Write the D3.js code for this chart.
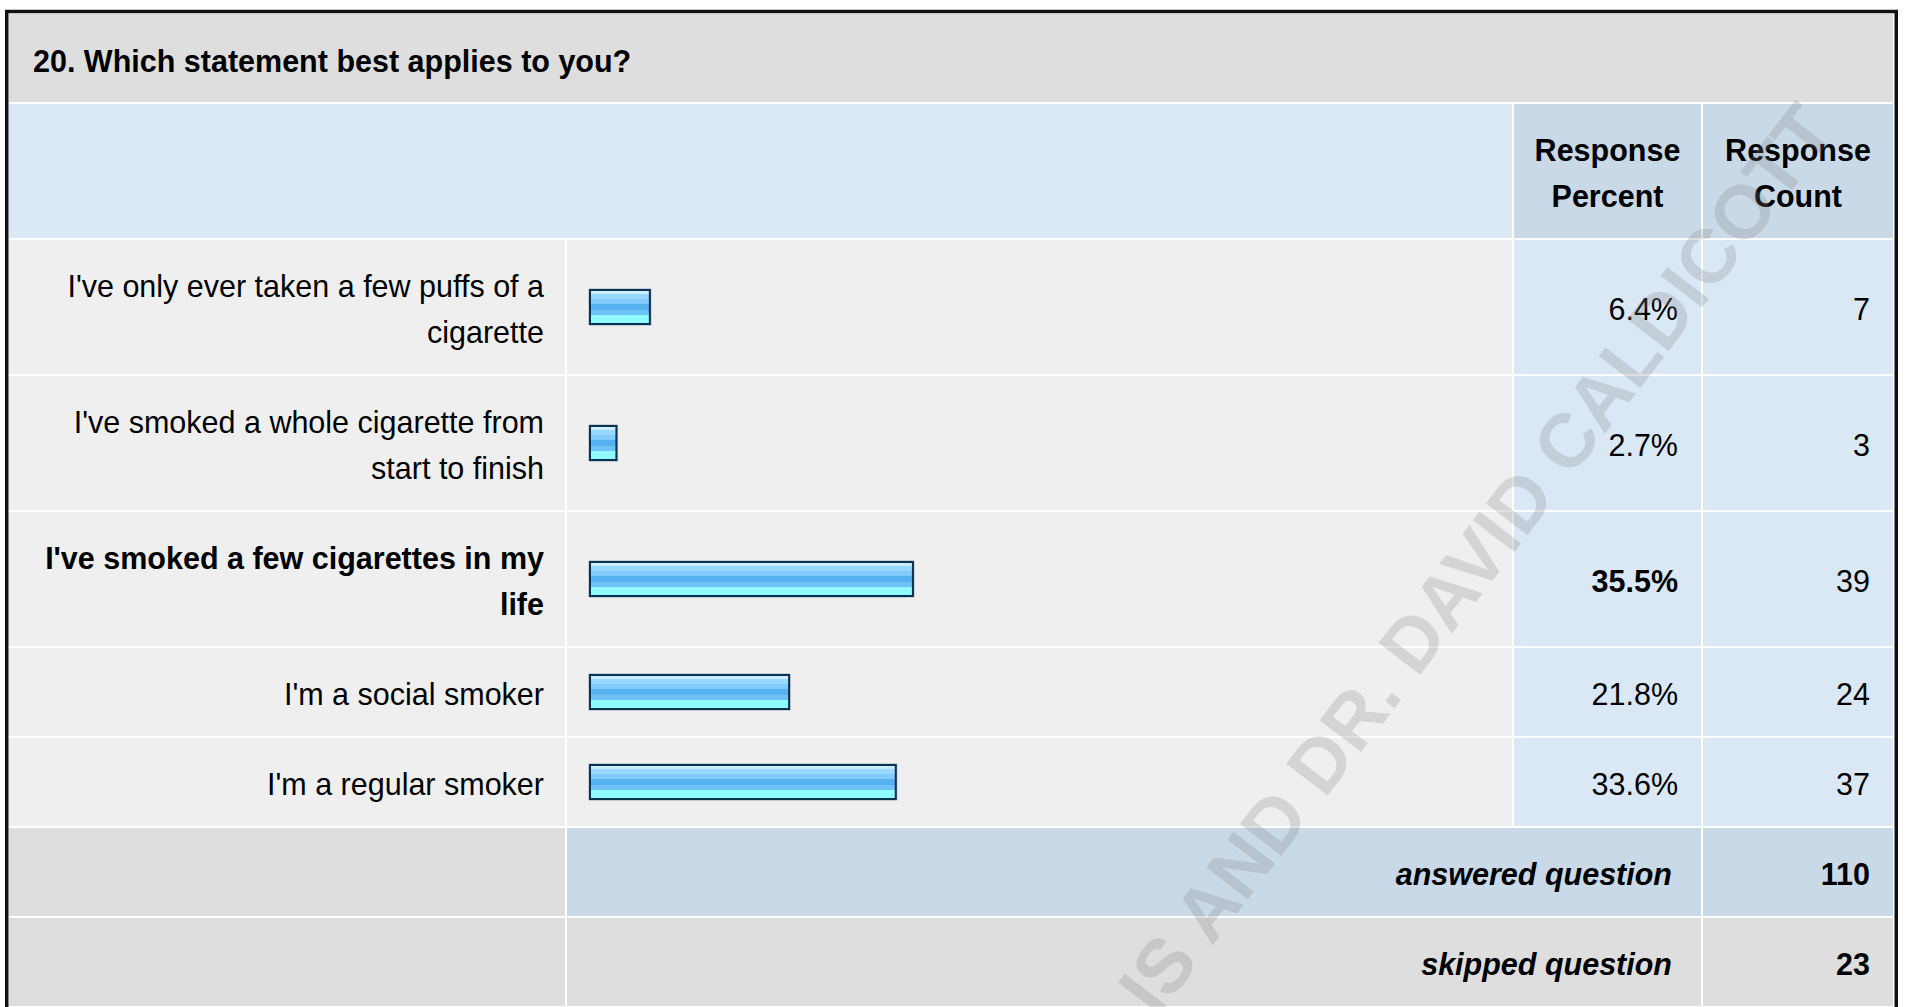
<!DOCTYPE html>
<html>
<head>
<meta charset="utf-8">
<script src="https://cdn.jsdelivr.net/npm/d3@7"></script>
<style>
  body { margin: 0; background: #fff; }
  svg text { font-family: "Liberation Sans", Helvetica, Arial, sans-serif; fill: #000; }
</style>
</head>
<body>
<div id="chart"></div>
<script>
const width = 1908, height = 1007;

// data
const question = "20. Which statement best applies to you?";
const answers = [
  "I've only ever taken a few puffs of a\ncigarette",
  "I've smoked a whole cigarette from\nstart to finish",
  "I've smoked a few cigarettes in my\nlife",
  "I'm a social smoker",
  "I'm a regular smoker"
];
const percents = [6.4, 2.7, 35.5, 21.8, 33.6];
const counts = [7, 3, 39, 24, 37];
const headers = ["Response\nPercent", "Response\nCount"];
const summaryLabels = ["answered question", "skipped question"];
const summaryCounts = [110, 23];
const watermark = "IS AND DR. DAVID CALDICOTT";

// layout
const col = { label: [9, 565], bar: [567, 1512], pct: [1514, 1701], cnt: [1703, 1893] };
const gap = 2, lineH = 46, oneLine = 88, twoLine = 134;
const topMax = d3.max(percents);

const x = d3.scaleLinear().domain([0, 100]).range([0, 904]);

const svg = d3.select("#chart").append("svg")
  .attr("width", width)
  .attr("height", height);

// bar stripes
const stripes = [
  [0, "#c8edff"], [0.1, "#98d7ff"], [0.24, "#80cbfc"], [0.42, "#56b1f1"],
  [0.6, "#6fc2f7"], [0.74, "#90fbff"]
];
const grad = svg.append("defs").append("linearGradient")
  .attr("id", "barfill")
  .attr("x1", 0).attr("y1", 0).attr("x2", 0).attr("y2", 1);
stripes.forEach((s, i) => {
  const end = i < stripes.length - 1 ? stripes[i + 1][0] : 1;
  grad.append("stop").attr("offset", s[0]).attr("stop-color", s[1]);
  grad.append("stop").attr("offset", end).attr("stop-color", s[1]);
});

const cells = svg.append("g");
const texts = svg.append("g");

function cell(span, y0, h, fill) {
  cells.append("rect")
    .attr("x", span[0]).attr("y", y0)
    .attr("width", span[1] - span[0]).attr("height", h)
    .attr("fill", fill);
}

function label(str, xp, cy, anchor, weight, style) {
  const lines = String(str).split("\n");
  const t = texts.append("text")
    .attr("text-anchor", anchor)
    .attr("font-size", 30.5)
    .attr("font-weight", weight || "normal")
    .attr("font-style", style || "normal");
  lines.forEach((ln, i) => {
    t.append("tspan")
      .attr("x", xp)
      .attr("y", cy + 13 + (i - (lines.length - 1) / 2) * lineH)
      .text(ln);
  });
}

// title
let y = 14;
cell([col.label[0], col.cnt[1]], y, oneLine, "#dedede");
label(question, 33, y + oneLine / 2 + 1, "start", "bold");
y += oneLine + gap;

// header
cell([col.label[0], col.bar[1]], y, twoLine, "#dbe9f7");
cell(col.pct, y, twoLine, "#c9d9e8");
cell(col.cnt, y, twoLine, "#c9d9e8");
label(headers[0], (col.pct[0] + col.pct[1]) / 2, y + twoLine / 2, "middle", "bold");
label(headers[1], (col.cnt[0] + col.cnt[1]) / 2, y + twoLine / 2, "middle", "bold");
y += twoLine + gap;

// answer rows
answers.forEach((a, i) => {
  const h = a.includes("\n") ? twoLine : oneLine;
  const cy = y + h / 2;
  const isTop = percents[i] === topMax;
  cell(col.label, y, h, "#efefef");
  cell(col.bar, y, h, "#efefef");
  cell(col.pct, y, h, "#dae8f6");
  cell(col.cnt, y, h, "#dae8f6");
  label(a, 544, cy, "end", isTop ? "bold" : "normal");
  label(percents[i].toFixed(1) + "%", 1678, cy, "end", isTop ? "bold" : "normal");
  label(counts[i], 1870, cy, "end", "normal");

  const bw = x(percents[i]) + 4;
  cells.append("rect")
    .attr("x", 588.5).attr("y", cy - 18.5)
    .attr("width", bw + 1).attr("height", 37)
    .attr("fill", "#0c3454").attr("opacity", 0.35);
  cells.append("rect")
    .attr("x", 589).attr("y", cy - 18)
    .attr("width", bw).attr("height", 36)
    .attr("fill", "#0b3252");
  cells.append("rect")
    .attr("x", 591).attr("y", cy - 16)
    .attr("width", bw - 4).attr("height", 32)
    .attr("fill", "url(#barfill)");
  y += h + gap;
});

// summary rows
summaryLabels.forEach((s, i) => {
  const cy = y + oneLine / 2;
  const fill = i === 0 ? "#c9d9e8" : "#dedede";
  cell(col.label, y, oneLine, "#dedede");
  cell([col.bar[0], col.pct[1]], y, oneLine, fill);
  cell(col.cnt, y, oneLine, fill);
  label(s, 1672, cy, "end", "bold", "italic");
  label(summaryCounts[i], 1870, cy, "end", "bold");
  y += oneLine + gap;
});

// outer frame
svg.append("rect")
  .attr("x", 6.75).attr("y", 11.5)
  .attr("width", 1889.5).attr("height", 1010)
  .attr("fill", "none")
  .attr("stroke", "#111")
  .attr("stroke-width", 3.5);

// watermark
svg.append("text")
  .attr("transform", "translate(1816,114) rotate(-52.5)")
  .attr("text-anchor", "end")
  .attr("dy", "0.36em")
  .attr("font-size", 76)
  .attr("font-weight", "bold")
  .style("fill", "#808080")
  .attr("opacity", 0.24)
  .text(watermark);
</script>
</body>
</html>
